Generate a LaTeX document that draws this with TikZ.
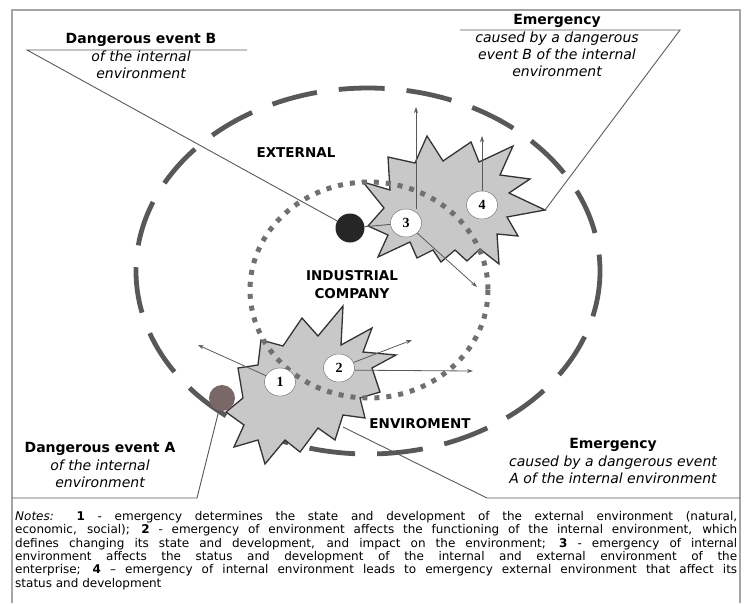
\documentclass[tikz,border=0pt]{standalone}
\usepackage{fontspec}
\setmainfont{DejaVu Sans}
\newfontfamily\numfont{Liberation Serif}
\usetikzlibrary{positioning,arrows.meta,shapes.geometric}
\definecolor{ringgray}{RGB}{88,88,88}
\definecolor{dotgray}{RGB}{112,112,112}
\definecolor{burstgray}{RGB}{200,200,200}
\definecolor{evared}{RGB}{122,104,104}
\definecolor{framegray}{RGB}{165,165,165}

\begin{document}
\begin{tikzpicture}[x=1pt, y=-1pt,
    frame/.style={draw=framegray, line width=1.8pt},
    outerring/.style={draw=ringgray, line width=4.8pt, dash pattern=on 46pt off 22pt},
    innerring/.style={draw=dotgray, line width=5pt, dash pattern=on 5pt off 7pt},
    burst/.style={fill=burstgray, draw=black!80, line width=1.3pt, line join=miter},
    numnode/.style={ellipse, draw=black!60, fill=white, minimum width=31pt, minimum height=28pt,
        inner sep=0pt, font=\numfont\bfseries\fontsize{14}{14}\selectfont},
    effect/.style={draw=black!65, line width=0.8pt, -{Stealth[length=6pt,width=4pt]}},
    callout/.style={draw=black!65, line width=0.9pt},
    title/.style={inner sep=0pt, font=\bfseries\fontsize{14}{17}\selectfont},
    subtitle/.style={inner sep=0pt, align=center, font=\itshape\fontsize{14}{17}\selectfont},
    zone/.style={inner sep=0pt, align=center, font=\bfseries\fontsize{13.5}{18}\selectfont}
]
\useasboundingbox (0,0) rectangle (747,603);

% 外框
\draw[frame] (12,603) -- (12,10) -- (740,10) -- (740,603);

% 外部环境 - 虚线椭圆
\draw[outerring] (368,271) ellipse [x radius=232, y radius=183];

% 紧急情况 B 和 A 的爆炸形
\draw[burst] plot coordinates {(363,182) (390,190) (388,157) (415,163) (427,136) (443,161)
    (471,142) (479,162) (513,146) (500,175) (530,179) (509,193) (545,210) (507,217)
    (518,236) (497,234) (499,264) (480,249) (467,261) (455,250) (441,262) (433,250)
    (417,258) (410,242) (378,257) (388,235) (368,226) (384,208)} -- cycle;
\draw[burst] plot coordinates {(343,306) (341,345) (372,328) (363,352) (396,355) (372,368)
    (380,392) (360,398) (365,418) (343,415) (335,440) (318,428) (300,452) (285,440)
    (265,464) (258,440) (234,447) (244,425) (226,412) (243,398) (238,368) (258,365)
    (261,340) (283,346) (302,318) (318,336)} -- cycle;

% 企业内部 - 点线椭圆
\draw[innerring] (369,290) ellipse [x radius=119, y radius=108];

% 危险事件
\node[circle, fill=evared, minimum size=26pt, inner sep=0pt] (evA) at (222,398) {};
\node[circle, fill=black!85, minimum size=29pt, inner sep=0pt] (evB) at (350,228) {};

% 编号
\node[numnode] (n1) at (280,382) {1};
\node[numnode] (n2) at (339,368) {2};
\node[numnode] (n3) at (406,223) {3};
\node[numnode] (n4) at (482,205) {4};

% 标注线
\coordinate (uB1) at (247,50);
\coordinate (uB2) at (27,50);
\coordinate (uE1) at (460,30);
\coordinate (uE2) at (680,30);
\coordinate (tipB) at (545,210);
\coordinate (uA1) at (12,498);
\coordinate (uA2) at (197,498);
\coordinate (uF1) at (740,498);
\coordinate (uF2) at (487,498);
\coordinate (inA) at (343,427);
\draw[callout] (uB1) -- (uB2) -- (evB);
\draw[callout] (evB) -- (n3);
\draw[callout] (uE1) -- (uE2) -- (tipB);
\draw[callout] (uA1) -- (uA2) -- (evA);
\draw[callout] (uF1) -- (uF2) -- (inA);

% 影响箭头
\coordinate (t1) at (198,345);
\coordinate (t2a) at (412,340);
\coordinate (t2b) at (473,371);
\coordinate (t3a) at (416,107);
\coordinate (t3b) at (477,287);
\coordinate (t4) at (482,136);
\draw[effect] (n1) -- (t1);
\draw[effect] (n2) -- (t2a);
\draw[effect] (n2.-8) -- (t2b);
\draw[effect] (n3.north -| t3a) -- (t3a);
\draw[effect] (n3) -- (t3b);
\draw[effect] (n4) -- (t4);

% 文字
\node[title] (labB) at (141,40) {Dangerous event B};
\node[subtitle, below=4pt of labB] (subB) {of the internal\\environment};
\node[title] (labE) at (557,21) {Emergency};
\node[subtitle, below=4pt of labE] (subE) {caused by a dangerous\\event B of the internal\\environment};
\node[title] (labA) at (100,449) {Dangerous event A};
\node[subtitle, below=4pt of labA] (subA) {of the internal\\environment};
\node[title] (labF) at (613,445) {Emergency};
\node[subtitle, below=4pt of labF] (subF) {caused by a dangerous event\\A of the internal environment};

\node[zone] (ext) at (296,153) {EXTERNAL};
\node[zone] (ind) at (352,285) {INDUSTRIAL\\COMPANY};
\node[zone] (env) at (420,424) {ENVIROMENT};

% 注释
\node[anchor=north west, inner sep=0pt, text width=722pt, align=justify,
    font=\fontsize{12}{13.4}\selectfont] (notes) at (15,511) {\noindent
    \textit{Notes:} \textbf{1} - emergency determines the state and development of the external environment (natural,\linebreak
    economic, social); \textbf{2} - emergency of environment affects the functioning of the internal environment, which\linebreak
    defines changing its state and development, and impact on the environment; \textbf{3} - emergency of internal\linebreak
    environment affects the status and development of the internal and external environment of the\linebreak
    enterprise; \textbf{4} -- emergency of internal environment leads to emergency external environment that affect its\linebreak
    status and development};
\end{tikzpicture}
\end{document}
